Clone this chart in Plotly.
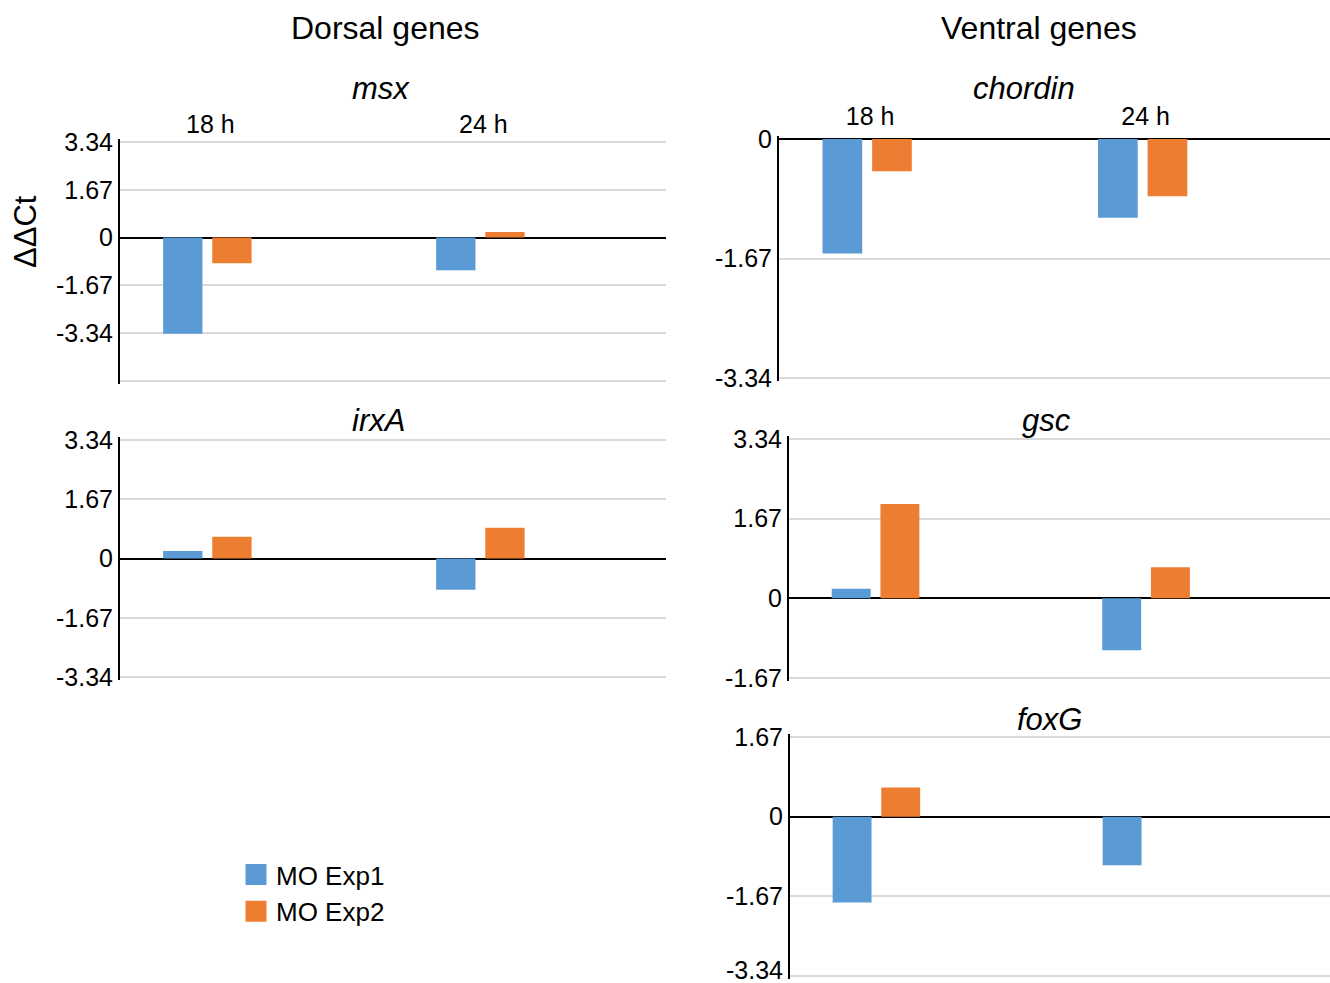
import plotly.graph_objects as go

W, H = 1330, 983

# ---- data ----
times = ["18 h", "24 h"]
series_names = ["MO Exp1", "MO Exp2"]
series_colors = ["#5B9BD5", "#ED7D31"]

msx_exp1 = [-3.36, -1.14]
msx_exp2 = [-0.90, 0.20]
irxA_exp1 = [0.21, -0.88]
irxA_exp2 = [0.61, 0.87]
chordin_exp1 = [-1.60, -1.10]
chordin_exp2 = [-0.45, -0.80]
gsc_exp1 = [0.20, -1.09]
gsc_exp2 = [1.98, 0.65]
foxG_exp1 = [-1.80, -1.02]
foxG_exp2 = [0.61, None]

msx_ticks = [-5.01, -3.34, -1.67, 0, 1.67, 3.34]
msx_ticktext = ["", "-3.34", "-1.67", "0", "1.67", "3.34"]
irxA_ticks = [-3.34, -1.67, 0, 1.67, 3.34]
irxA_ticktext = ["-3.34", "-1.67", "0", "1.67", "3.34"]
chordin_ticks = [-3.34, -1.67, 0]
chordin_ticktext = ["-3.34", "-1.67", "0"]
gsc_ticks = [-1.67, 0, 1.67, 3.34]
gsc_ticktext = ["-1.67", "0", "1.67", "3.34"]
foxG_ticks = [-3.34, -1.67, 0, 1.67]
foxG_ticktext = ["", "-1.67", "0", "1.67"]   # bottom label drawn just above its gridline (below)
foxG_bottom_label = "-3.34"

FONT = "Liberation Sans, Arial, Helvetica, sans-serif"
PAD = 3  # px of extra room at both ends of each value axis so edge gridlines draw

# name, exp1, exp2, tickvals, ticktext, (left, right, top, bottom) px, show x labels, label standoff
panels = [
    ("msx", msx_exp1, msx_exp2, msx_ticks, msx_ticktext, (120, 666, 142, 381), True, 0),
    ("irxA", irxA_exp1, irxA_exp2, irxA_ticks, irxA_ticktext, (120, 666, 440, 677), False, 0),
    ("chordin", chordin_exp1, chordin_exp2, chordin_ticks, chordin_ticktext, (779, 1330, 139, 378), True, 5),
    ("gsc", gsc_exp1, gsc_exp2, gsc_ticks, gsc_ticktext, (789, 1330, 439, 678), False, 0),
    ("foxG", foxG_exp1, foxG_exp2, foxG_ticks, foxG_ticktext, (790, 1330, 737, 976), False, 0),
]

fig = go.Figure()
layout = {}
annotations = []

for i, (name, e1, e2, tv, tt, (l, r, t, b), showx, xstand) in enumerate(panels):
    n = i + 1
    xa = "x" if n == 1 else f"x{n}"
    ya = "y" if n == 1 else f"y{n}"
    for vals, sname, col in zip((e1, e2), series_names, series_colors):
        fig.add_trace(go.Bar(
            x=times, y=vals, name=sname, xaxis=xa, yaxis=ya,
            marker=dict(color=col, line=dict(width=0)),
            showlegend=False, legendgroup=sname,
        ))
    lo, hi = min(tv), max(tv)
    eps = PAD * (hi - lo) / (b - t)
    xkey = "xaxis" if n == 1 else f"xaxis{n}"
    ykey = "yaxis" if n == 1 else f"yaxis{n}"
    layout[xkey] = dict(
        domain=[l / W, r / W], anchor=ya, type="category",
        range=[-0.32, 1.68], side="top",
        showgrid=False, zeroline=False, showline=False, ticks="",
        showticklabels=showx, automargin=False,
        ticklabelstandoff=xstand, ticklabelshift=3,
        tickfont=dict(family=FONT, size=25, color="black"),
    )
    layout[ykey] = dict(
        domain=[1 - (b + PAD) / H, 1 - (t - PAD) / H], anchor=xa,
        range=[lo - eps, hi + eps],
        tickvals=tv, ticktext=tt,
        showgrid=True, gridcolor="#D9D9D9", gridwidth=2,
        zeroline=True, zerolinecolor="black", zerolinewidth=2,
        showline=True, linecolor="black", linewidth=2,
        ticks="", ticklabelstandoff=0, automargin=False,
        ticklabeloverflow="allow",
        tickfont=dict(family=FONT, size=25, color="black"),
    )

# bottom tick label of foxG, lifted slightly so it stays inside the picture
annotations.append(dict(
    text=foxG_bottom_label, xref="x5 domain", yref="y5",
    x=0, y=min(foxG_ticks), xanchor="right", yanchor="middle",
    xshift=-5, yshift=6, showarrow=False,
    font=dict(family=FONT, size=25, color="black"),
))

# legend entries (square swatches) linked to the bar series
for sname, col in zip(series_names, series_colors):
    fig.add_trace(go.Scatter(
        x=[None], y=[None], mode="markers", name=sname, legendgroup=sname,
        marker=dict(symbol="square", size=16, color=col, line=dict(color=col, width=5)),
        showlegend=True, hoverinfo="skip",
    ))

titles = [
    ("Dorsal genes", 385, 28, 32, False),
    ("Ventral genes", 1039, 28, 32, False),
    ("msx", 381, 88, 31, True),
    ("irxA", 378, 420, 31, True),
    ("chordin", 1024, 88, 31, True),
    ("gsc", 1046, 421, 31, True),
    ("foxG", 1049, 719, 31, True),
]
for txt, x, y, sz, ital in titles:
    annotations.append(dict(
        text=f"<i>{txt}</i>" if ital else txt,
        x=x / W, y=1 - y / H, xref="paper", yref="paper",
        xanchor="center", yanchor="middle", showarrow=False,
        font=dict(family=FONT, size=sz, color="black"),
    ))
annotations.append(dict(
    text="ΔΔCt", x=25 / W, y=1 - 232 / H, xref="paper", yref="paper",
    xanchor="center", yanchor="middle", showarrow=False, textangle=-90,
    font=dict(family=FONT, size=31, color="black"),
))

fig.update_layout(
    width=W, height=H, autosize=False,
    margin=dict(l=0, r=0, t=0, b=0, pad=0, autoexpand=False),
    paper_bgcolor="white", plot_bgcolor="white",
    barmode="group", bargap=0.64, bargroupgap=0.2,
    annotations=annotations,
    showlegend=True,
    legend=dict(
        x=236 / W, y=1 - 851 / H, xanchor="left", yanchor="top",
        font=dict(family=FONT, size=26, color="black"),
        bgcolor="rgba(0,0,0,0)", tracegroupgap=0,
    ),
    **layout,
)

fig.write_html(
    "out.html",
    config={"displayModeBar": False, "responsive": False},
    post_script="document.body.style.margin='0';document.body.style.padding='0';document.body.style.overflow='hidden';",
)
